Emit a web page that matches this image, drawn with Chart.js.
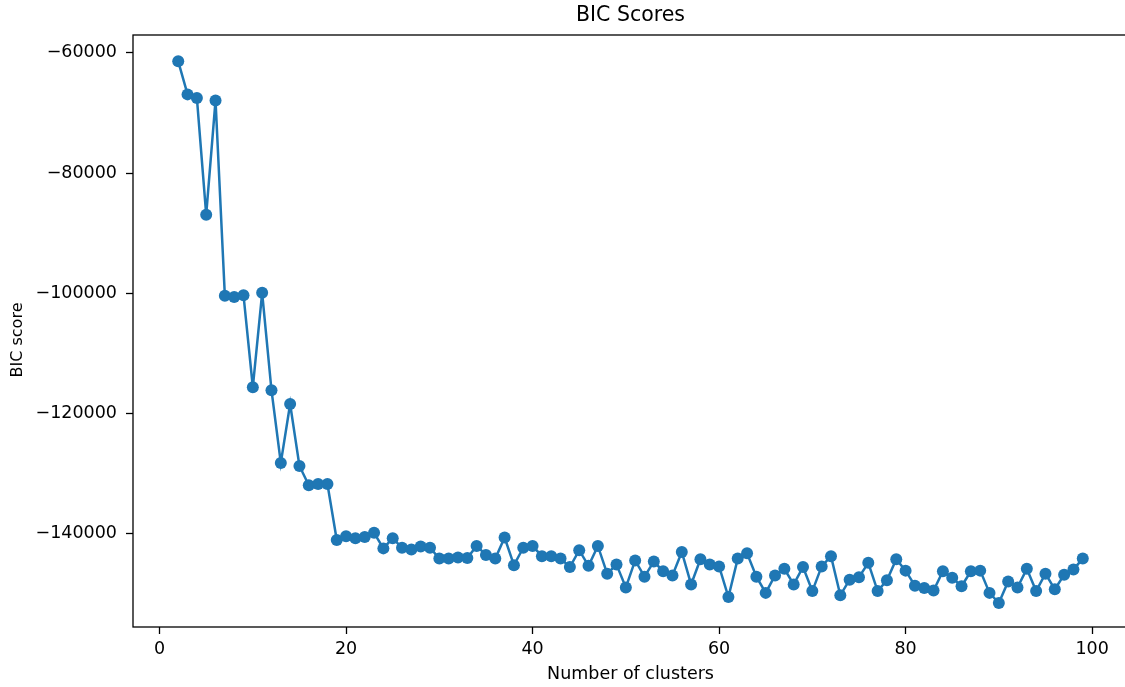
<!DOCTYPE html>
<html>
<head>
<meta charset="utf-8">
<script src="https://cdn.jsdelivr.net/npm/chart.js@4"></script>
<style>
    html, body { margin: 0; padding: 0; overflow: hidden; background: #fff; }
</style>
</head>
<body>
<canvas id="chartBic" width="1135" height="687"></canvas>
<script>
const clusters = [2, 3, 4, 5, 6, 7, 8, 9, 10, 11, 12, 13, 14, 15, 16, 17, 18, 19, 20,
    21, 22, 23, 24, 25, 26, 27, 28, 29, 30, 31, 32, 33, 34, 35, 36, 37, 38, 39, 40,
    41, 42, 43, 44, 45, 46, 47, 48, 49, 50, 51, 52, 53, 54, 55, 56, 57, 58, 59, 60,
    61, 62, 63, 64, 65, 66, 67, 68, 69, 70, 71, 72, 73, 74, 75, 76, 77, 78, 79, 80,
    81, 82, 83, 84, 85, 86, 87, 88, 89, 90, 91, 92, 93, 94, 95, 96, 97, 98, 99];
const bicScores = [-61400, -66900, -67500, -86900, -67900, -100400, -100600, -100300, -115600, -99900,
    -116100, -128200, -118400, -128700, -131900, -131700, -131700, -141000, -140400, -140700,
    -140500, -139800, -142400, -140700, -142300, -142600, -142100, -142300, -144100, -144100,
    -143900, -144000, -142000, -143500, -144100, -140600, -145200, -142300, -142000, -143700,
    -143700, -144100, -145500, -142700, -145300, -142000, -146600, -145100, -148900, -144400,
    -147100, -144600, -146200, -146900, -143000, -148400, -144200, -145100, -145400, -150500,
    -144100, -143200, -147100, -149800, -146900, -145800, -148400, -145500, -149500, -145400,
    -143700, -150200, -147600, -147200, -144800, -149500, -147700, -144200, -146100, -148600,
    -149000, -149400, -146200, -147300, -148700, -146200, -146100, -149800, -151500, -147900,
    -148900, -145800, -149500, -146600, -149200, -146800, -145900, -144100];
const xTicks = [0, 20, 40, 60, 80, 100];
const yTicks = [-140000, -120000, -100000, -80000, -60000];

const fuente = '"DejaVu Sans", sans-serif';

iniciarGrafico();

function iniciarGrafico() {
    const ctx = document.getElementById('chartBic');

    // marco completo, titulo y etiqueta del eje y
    const marco = {
        id: 'marco',
        afterDraw(chart) {
            const {ctx, chartArea} = chart;
            ctx.save();
            ctx.strokeStyle = '#000';
            ctx.lineWidth = 1.3;
            ctx.strokeRect(chartArea.left, chartArea.top, chartArea.right - chartArea.left, chartArea.bottom - chartArea.top);
            ctx.fillStyle = '#000';
            ctx.textAlign = 'center';
            ctx.textBaseline = 'middle';
            ctx.font = '20.5px ' + fuente;
            ctx.fillText('BIC Scores', (chartArea.left + chartArea.right) / 2, 16);
            ctx.translate(18, 340);
            ctx.rotate(-Math.PI / 2);
            ctx.font = '16px ' + fuente;
            ctx.fillText('BIC score', 0, 0);
            ctx.restore();
        }
    };

    new Chart(ctx, {
        type: 'line',
        data: {
            datasets: [{
                label: 'BIC',
                data: clusters.map((c, i) => ({x: c, y: bicScores[i]})),
                borderColor: '#1f77b4',
                backgroundColor: '#1f77b4',
                borderWidth: 2.5,
                pointRadius: 6,
                pointBorderWidth: 0,
                pointHoverRadius: 6,
                tension: 0
            }]
        },
        options: {
            responsive: false,
            animation: false,
            events: [],
            layout: { padding: { top: 35, right: 7, left: 0, bottom: 0 } },
            plugins: {
                legend: { display: false },
                tooltip: { enabled: false }
            },
            scales: {
                x: {
                    type: 'linear',
                    min: -2.85,
                    max: 103.85,
                    afterBuildTicks: s => { s.ticks = xTicks.map(v => ({value: v})); },
                    afterFit: s => { s.height = 60; },
                    border: { display: false },
                    grid: { drawOnChartArea: false, tickLength: 7, tickColor: '#000', tickWidth: 1.3 },
                    ticks: { color: '#000', padding: 5, maxRotation: 0, font: { family: fuente, size: 17.5 } },
                    title: { display: true, text: 'Number of clusters', color: '#000', padding: { top: 0, bottom: 2 }, font: { family: fuente, size: 17.5 } }
                },
                y: {
                    min: -155475,
                    max: -57025,
                    afterBuildTicks: s => { s.ticks = yTicks.map(v => ({value: v})); },
                    afterFit: s => { s.width = 133; },
                    border: { display: false },
                    grid: { drawOnChartArea: false, tickLength: 7, tickColor: '#000', tickWidth: 1.3 },
                    ticks: {
                        color: '#000',
                        padding: 9,
                        font: { family: fuente, size: 17.5 },
                        callback: v => (v < 0 ? '\u2212' : '') + Math.abs(v)
                    }
                }
            }
        },
        plugins: [marco]
    });
}
</script>
</body>
</html>
